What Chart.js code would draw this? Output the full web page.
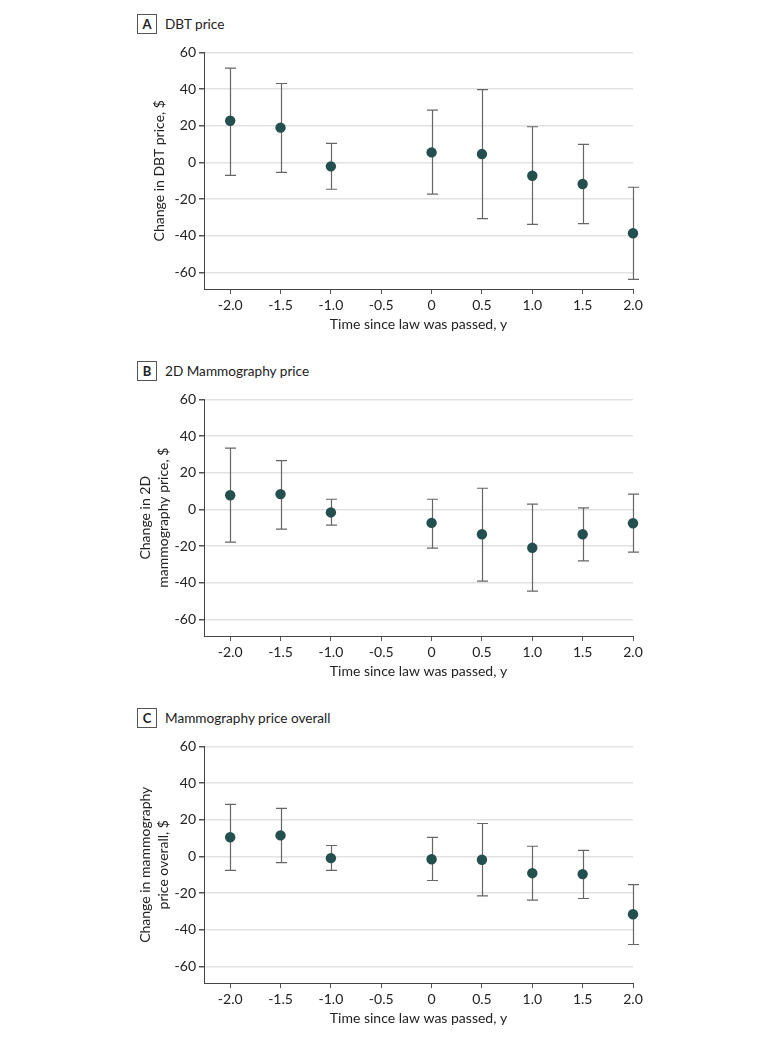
<!DOCTYPE html>
<html>
<head>
<meta charset="utf-8">
<script src="https://cdn.jsdelivr.net/npm/chart.js@4.4.1/dist/chart.umd.min.js"></script>
<style>
  html, body { margin: 0; padding: 0; background: #fff; }
  body { width: 780px; height: 1038px; position: relative; overflow: hidden; font-family: Lato, "Liberation Sans", Arial, sans-serif; }
  .panel { position: absolute; left: 0; width: 780px; height: 347px; }
  .lbl { position: absolute; left: 137px; top: 14px; width: 18px; height: 18px; border: 1px solid #555; font-weight: bold; font-size: 13px; line-height: 18px; text-align: center; color: #222; }
  .ttl { position: absolute; left: 165px; top: 14px; font-size: 13.6px; line-height: 20px; color: #222; }
  .cv { position: absolute; left: 130px; top: 40px; width: 520px; height: 300px; }
</style>
</head>
<body>
<script>
// ---- data ----
const xValues = [-2.0, -1.5, -1.0, 0, 0.5, 1.0, 1.5, 2.0];
const xTickValues = [-2.0, -1.5, -1.0, -0.5, 0, 0.5, 1.0, 1.5, 2.0];
const xTickLabels = ["-2.0", "-1.5", "-1.0", "-0.5", "0", "0.5", "1.0", "1.5", "2.0"];
const yTickValues = [-60, -40, -20, 0, 20, 40, 60];

const panelLetters = ["A", "B", "C"];
const panelTitles = ["DBT price", "2D Mammography price", "Mammography price overall"];
const yTitles = [["Change in DBT price, $"], ["Change in 2D", "mammography price, $"], ["Change in mammography", "price overall, $"]];
const xTitle = "Time since law was passed, y";

const dbtEst   = [22.8, 19.0, -2.1, 5.5, 4.6, -7.2, -11.7, -38.6];
const dbtLow   = [-7.0, -5.4, -14.6, -17.3, -30.6, -33.7, -33.3, -63.8];
const dbtHigh  = [51.5, 43.1, 10.4, 28.6, 39.8, 19.5, 9.9, -13.5];

const mam2dEst  = [7.8, 8.4, -1.6, -7.3, -13.5, -20.9, -13.5, -7.5];
const mam2dLow  = [-17.8, -10.7, -8.5, -21.1, -39.1, -44.5, -28.0, -23.3];
const mam2dHigh = [33.5, 26.7, 5.6, 5.6, 11.6, 2.9, 0.9, 8.4];

const allEst  = [10.5, 11.5, -0.9, -1.5, -1.8, -9.1, -9.6, -31.5];
const allLow  = [-7.6, -3.3, -7.6, -13.1, -21.5, -23.8, -22.9, -48.0];
const allHigh = [28.4, 26.2, 6.0, 10.4, 18.0, 5.6, 3.3, -15.3];

const estSets = [dbtEst, mam2dEst, allEst];
const lowSets = [dbtLow, mam2dLow, allLow];
const highSets = [dbtHigh, mam2dHigh, allHigh];

const panelOffsets = [0, 347, 694];
const yTitlePads = [22, 8, 8];

const errorBarPlugin = {
  id: 'errorBars',
  beforeDatasetsDraw(chart) {
    const ctx = chart.ctx;
    const xs = chart.scales.x, ys = chart.scales.y;
    chart.data.datasets.forEach(ds => {
      if (!ds.errLow) return;
      ctx.save();
      ctx.strokeStyle = '#666';
      ctx.lineWidth = 1.2;
      ds.data.forEach((p, i) => {
        const px = Math.round(xs.getPixelForValue(p.x)) + 0.5;
        const yl = ys.getPixelForValue(ds.errLow[i]);
        const yh = ys.getPixelForValue(ds.errHigh[i]);
        ctx.beginPath();
        ctx.moveTo(px, yl); ctx.lineTo(px, yh);
        ctx.moveTo(px - 5.5, yl); ctx.lineTo(px + 5.5, yl);
        ctx.moveTo(px - 5.5, yh); ctx.lineTo(px + 5.5, yh);
        ctx.stroke();
      });
      ctx.restore();
    });
  }
};

const FONT = "Lato, 'Liberation Sans', Arial, sans-serif";

for (let k = 0; k < 3; k++) {
  const panel = document.createElement('div');
  panel.className = 'panel';
  panel.style.top = panelOffsets[k] + 'px';
  const lbl = document.createElement('div'); lbl.className = 'lbl'; lbl.textContent = panelLetters[k];
  const ttl = document.createElement('div'); ttl.className = 'ttl'; ttl.textContent = panelTitles[k];
  const wrap = document.createElement('div'); wrap.className = 'cv';
  const cv = document.createElement('canvas');
  wrap.appendChild(cv);
  panel.appendChild(lbl); panel.appendChild(ttl); panel.appendChild(wrap);
  document.body.appendChild(panel);

  new Chart(cv, {
    type: 'scatter',
    data: {
      datasets: [{
        data: xValues.map((x, i) => ({ x: x, y: estSets[k][i] })),
        errLow: lowSets[k],
        errHigh: highSets[k],
        backgroundColor: '#234f4e',
        borderColor: '#234f4e',
        pointRadius: 5.2,
        pointHoverRadius: 5.2,
        borderWidth: 0,
        clip: false
      }]
    },
    options: {
      responsive: true,
      maintainAspectRatio: false,
      animation: false,
      events: [],
      layout: { padding: { top: 12.5, right: 17, bottom: 0, left: 0 } },
      plugins: { legend: { display: false }, tooltip: { enabled: false } },
      scales: {
        x: {
          type: 'linear',
          min: -2.26, max: 2.0,
          afterBuildTicks: s => { s.ticks = xTickValues.map(v => ({ value: v })); },
          afterFit: s => { s.height = 51; },
          grid: { drawOnChartArea: false, drawTicks: true, tickLength: 5, tickColor: '#555', color: '#555' },
          border: { display: true, color: '#444', width: 1 },
          ticks: {
            padding: 3,
            autoSkip: false,
            maxRotation: 0,
            color: '#222',
            font: { family: FONT, size: 14 },
            callback: (v) => { const i = xTickValues.indexOf(v); return i >= 0 ? xTickLabels[i] : ''; }
          },
          title: { display: true, text: xTitle, color: '#222', font: { family: FONT, size: 14 }, padding: { top: 0, bottom: 7 } }
        },
        y: {
          type: 'linear',
          min: -69, max: 60,
          afterBuildTicks: s => { s.ticks = yTickValues.map(v => ({ value: v })); },
          afterFit: s => { s.width = 74; },
          grid: { drawOnChartArea: true, drawTicks: true, tickLength: 5, color: '#e2e2e2', lineWidth: 1.5, tickColor: '#555' },
          border: { display: true, color: '#444', width: 1 },
          ticks: {
            padding: 3,
            color: '#222',
            font: { family: FONT, size: 14 },
            callback: v => String(v)
          },
          title: { display: true, text: yTitles[k], color: '#222', font: { family: FONT, size: 14, lineHeight: 1.25 }, padding: { top: yTitlePads[k] - 1, bottom: 0 } }
        }
      }
    },
    plugins: [errorBarPlugin]
  });
}
</script>
</body>
</html>
